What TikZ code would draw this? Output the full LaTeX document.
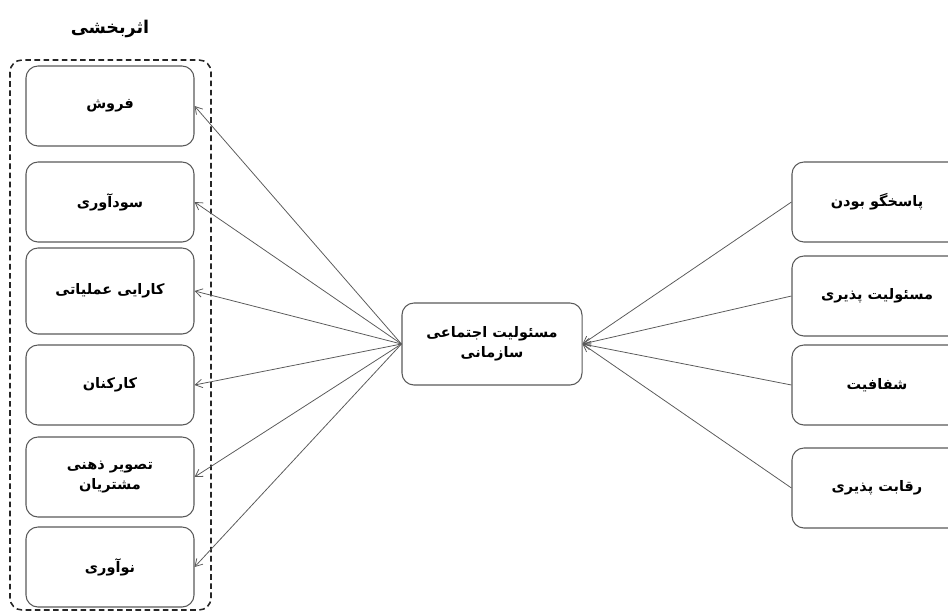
\documentclass[tikz,border=0pt]{standalone}
\usepackage{fontspec}
\usepackage{tikz}
\usetikzlibrary{arrows.meta}
\TeXXeTstate=1
\newfontfamily\farsifont[Script=Arabic]{DejaVu Sans}
\newcommand{\fa}[1]{\beginR #1\endR}

\begin{document}
\begin{tikzpicture}[x=0.025cm, y=-0.025cm,
    every node/.style={font=\farsifont\bfseries\fontsize{10.3}{14}\selectfont},
    box/.style={draw=black!65, line width=0.75pt, rounded corners=3mm, align=center,
        minimum width=4.2cm, minimum height=2cm, inner sep=2pt},
    link/.style={draw=black!65, line width=0.55pt},
    arr/.style={link, -{Straight Barb[length=5pt,width=6pt]}}]

    \useasboundingbox (0,0) rectangle (948,612);

    % title and group frame
    \node[font=\farsifont\bfseries\fontsize{12.5}{14}\selectfont] (title) at (110,29) {\fa{اثربخشی}};
    \draw[black!85, line width=1.1pt, dash pattern=on 4pt off 2.5pt, rounded corners=3mm] (10,60) rectangle (211,610);

    % left boxes
    \node[box] (sale) at (110,106) {\fa{فروش}};
    \node[box] (profit) at (110,202) {\fa{سودآوری}};
    \node[box, minimum height=2.15cm] (oper) at (110,291) {\fa{کارایی عملیاتی}};
    \node[box] (staff) at (110,385) {\fa{کارکنان}};
    \node[box] (image) at (110,477) {\fa{تصویر ذهنی}\\\fa{مشتریان}};
    \node[box] (innov) at (110,567) {\fa{نوآوری}};

    % centre
    \node[box, minimum width=4.5cm, minimum height=2.05cm] (csr) at (492,344) {\fa{مسئولیت اجتماعی}\\\fa{سازمانی}};

    % right boxes
    \node[box, minimum width=4.25cm] (resp) at (877,202) {\fa{پاسخگو بودن}};
    \node[box, minimum width=4.25cm] (accnt) at (877,296) {\fa{مسئولیت پذیری}};
    \node[box, minimum width=4.25cm] (transp) at (877,385) {\fa{شفافیت}};
    \node[box, minimum width=4.25cm] (compet) at (877,488) {\fa{رقابت پذیری}};

    % connectors
    \foreach \n in {sale,profit,oper,staff,image,innov}
        \draw[arr] (csr.west) -- (\n.east);
    \foreach \n in {resp,accnt,transp,compet}
        \draw[arr] (\n.west) -- (csr.east);

\end{tikzpicture}
\end{document}
